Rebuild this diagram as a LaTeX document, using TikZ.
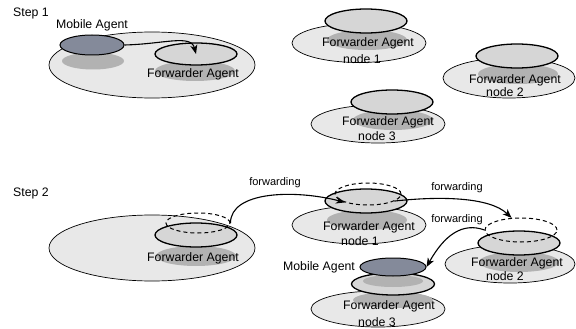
\documentclass[tikz,border=0pt]{standalone}
\usepackage{fontspec}
\setmainfont{Liberation Sans}
\usetikzlibrary{arrows.meta,shapes.geometric}

\definecolor{nenNhat}{gray}{0.91}
\definecolor{dia}{gray}{0.84}
\definecolor{bong}{gray}{0.70}
\definecolor{tacTu}{RGB}{132,138,154}

\tikzset{
    oval/.style args={#1/#2}{ellipse, inner sep=0pt, minimum width=#1pt, minimum height=#2pt},
    nen/.style={fill=nenNhat, draw=black, line width=0.7pt},
    bongmo/.style={fill=bong, draw=none},
    dia/.style={fill=dia, draw=black, line width=1.3pt},
    didong/.style={fill=tacTu, draw=black, line width=1pt},
    vet/.style={draw=black, dashed, dash pattern=on 4pt off 3pt, line width=1pt},
    nhan/.style={inner sep=0pt, font=\fontsize{12.3}{14}\selectfont},
    nhanNho/.style={inner sep=0pt, font=\fontsize{11}{13}\selectfont},
    mui/.style={->, line width=1.1pt}
}

\begin{document}
\begin{tikzpicture}[x=1pt, y=-1pt, >={Stealth[length=9pt,width=7pt,inset=2.5pt]}]
    % 0. Khung hình
    \useasboundingbox (0,0) rectangle (576,329);

    % 1. Bước 1
    \node[nhan] (buoc1) at (31,13) {Step 1};
    \node[nhan] (tenMobA) at (92,25) {Mobile Agent};

    % Máy chủ chứa tác tử di động
    \node[oval=206/66, nen] (nenA) at (152,65) {};
    \node[oval=62/17, bongmo] (bmMobA) at (93,61) {};
    \node[oval=64/20, didong] (mobA) at (92,45) {};
    \node[oval=80/20, bongmo] (bmFwdA) at (195,71) {};
    \node[nhan] (tenFwdA) at (193,74) {Forwarder Agent};
    \node[oval=82/22, dia] (fwdA) at (196,54) {};
    \draw[mui] (mobA.east) .. controls +(40,-1) and +(-5,-20) .. (fwdA.center);

    % Nút 1
    \node[oval=134/39, nen] (nen1) at (359,43) {};
    \node[oval=80/20, bongmo] (bm1) at (367,40) {};
    \node[nhan] (ten1) at (368,43) {Forwarder Agent};
    \node[nhan] (so1) at (362,59) {node 1};
    \node[oval=82/24, dia] (fwd1) at (366,21) {};

    % Nút 2
    \node[oval=132/40, nen] (nen2) at (509,78) {};
    \node[oval=80/20, bongmo] (bm2) at (518,74) {};
    \node[nhan] (ten2) at (515,80) {Forwarder Agent};
    \node[nhan] (so2) at (505,92) {node 2};
    \node[oval=82/24, dia] (fwd2) at (517,56) {};

    % Nút 3
    \node[oval=134/38, nen] (nen3) at (378,124) {};
    \node[oval=80/20, bongmo] (bm3) at (393,120) {};
    \node[nhan] (ten3) at (388,122) {Forwarder Agent};
    \node[nhan] (so3) at (377,136) {node 3};
    \node[oval=82/24, dia] (fwd3) at (392,102) {};

    % 2. Bước 2
    \node[nhan] (buoc2) at (31,193) {Step 2};

    % Máy chủ ban đầu
    \node[oval=206/66, nen] (nenB) at (152,248) {};
    \node[oval=80/20, bongmo] (bmFwdB) at (196,256) {};
    \node[nhan] (tenFwdB) at (193,258) {Forwarder Agent};
    \node[oval=82/24, dia] (fwdB) at (196,235) {};
    \node[oval=64/20, vet] (gstB) at (198,223) {};

    % Nút 1
    \node[oval=134/38, nen] (nen1b) at (359,225) {};
    \node[oval=80/20, bongmo] (bm1b) at (367,220) {};
    \node[nhan] (ten1b) at (369,227) {Forwarder Agent};
    \node[nhan] (so1b) at (360,241) {node 1};
    \node[oval=82/24, dia] (fwd1b) at (366,201) {};
    \node[oval=66/22, vet] (gst1) at (368,194) {};

    % Nút 2
    \node[oval=130/38, nen] (nen2b) at (510,264) {};
    \node[oval=80/20, bongmo] (bm2b) at (519,262) {};
    \node[nhan] (ten2b) at (517,263) {Forwarder Agent};
    \node[nhan] (so2b) at (505,276) {node 2};
    \node[oval=82/24, dia] (fwd2b) at (519,243) {};
    \node[oval=72/24, vet] (gst2) at (521,230) {};

    % Nút 3 với tác tử di động
    \node[oval=134/36, nen] (nen3b) at (378,309) {};
    \node[oval=80/16, bongmo] (bm3b) at (393,300) {};
    \node[nhan] (ten3b) at (389,306) {Forwarder Agent};
    \node[nhan] (so3b) at (377,322) {node 3};
    \node[oval=83/22, dia] (fwd3b) at (393,284) {};
    \node[oval=60/12, bongmo] (bmMobB) at (393,281) {};
    \node[oval=66/18, didong] (mobB) at (393,267) {};
    \node[nhan] (tenMobB) at (319,267) {Mobile Agent};

    % 3. Các mũi tên chuyển tiếp
    \draw[mui] (gstB.east) .. controls +(0,-32) and +(-50,-13) .. (gst1.200);
    \node[nhanNho] (ct1) at (275,183) {forwarding};
    \draw[mui] (gst1.-15) .. controls +(45,-5) and +(-22,-21) .. (gst2.128);
    \node[nhanNho] (ct2) at (457,188) {forwarding};
    \draw[mui] (gst2.west) .. controls +(-22,-8) and +(18,-32) .. (mobB.east);
    \node[nhanNho] (ct3) at (457,220) {forwarding};
\end{tikzpicture}
\end{document}
